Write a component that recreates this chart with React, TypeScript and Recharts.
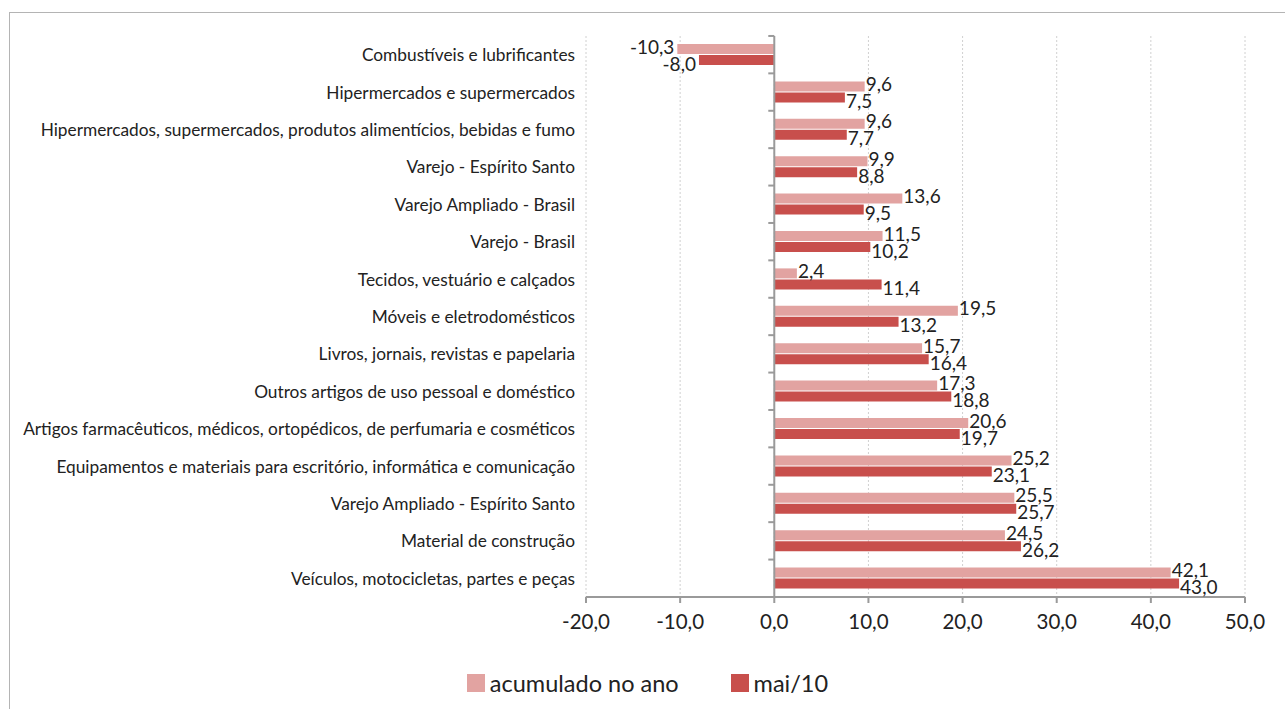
import React from 'react'
import {
  BarChart,
  Bar,
  XAxis,
  YAxis,
  CartesianGrid,
  ReferenceLine,
  LabelList,
  Legend,
} from 'recharts'

const categories = [
  'Combustíveis e lubrificantes',
  'Hipermercados e supermercados',
  'Hipermercados, supermercados, produtos alimentícios, bebidas e fumo',
  'Varejo - Espírito Santo',
  'Varejo Ampliado - Brasil',
  'Varejo - Brasil',
  'Tecidos, vestuário e calçados',
  'Móveis e eletrodomésticos',
  'Livros, jornais, revistas e papelaria',
  'Outros artigos de uso pessoal e doméstico',
  'Artigos farmacêuticos, médicos, ortopédicos, de perfumaria e cosméticos',
  'Equipamentos e materiais para escritório, informática e comunicação',
  'Varejo Ampliado - Espírito Santo',
  'Material de construção',
  'Veículos, motocicletas, partes e peças',
]

const acumuladoNoAno = [-10.3, 9.6, 9.6, 9.9, 13.6, 11.5, 2.4, 19.5, 15.7, 17.3, 20.6, 25.2, 25.5, 24.5, 42.1]
const maio10 = [-8.0, 7.5, 7.7, 8.8, 9.5, 10.2, 11.4, 13.2, 16.4, 18.8, 19.7, 23.1, 25.7, 26.2, 43.0]

const xTicks = [-20, -10, 0, 10, 20, 30, 40, 50]

const data = categories.map((name, i) => ({
  name,
  acum: acumuladoNoAno[i],
  mai: maio10[i],
}))

const W = 1285
const H = 709
const FONT = 'Lato, "Open Sans", sans-serif'
const LIGHT = '#e2a3a1'
const DARK = '#c84f4c'

const margin = { top: 36, right: 40, bottom: 12, left: 0 }
const yAxisWidth = 586
const plotLeft = margin.left + yAxisWidth
const plotWidth = W - plotLeft - margin.right
const plotTop = margin.top
const plotBottom = 598
const zeroX = plotLeft + (plotWidth * (0 - xTicks[0])) / (xTicks[xTicks.length - 1] - xTicks[0])
const band = (plotBottom - plotTop) / categories.length

const fmt = (v: number) => v.toFixed(1).replace('.', ',')

function CategoryTick(props: any) {
  const { x, y, payload } = props
  return (
    <g>
      <text
        x={x}
        y={y}
        textAnchor="end"
        dominantBaseline="central"
        fontSize={17.3}
        fontFamily={FONT}
        fill="#222"
      >
        {payload.value}
      </text>
      <line x1={zeroX - 6} x2={zeroX} y1={y - band / 2} y2={y - band / 2} stroke="#9a9a9a" strokeWidth={2} />
    </g>
  )
}

const makeLabel = (dy: number) => (props: any) => {
  const { x, y, width, height, value } = props
  const v = Number(value)
  const left = Math.min(x, x + width)
  const right = Math.max(x, x + width)
  const cy = y + height / 2 + dy
  return (
    <text
      x={v < 0 ? left - 3 : right + 1}
      y={cy}
      textAnchor={v < 0 ? 'end' : 'start'}
      dominantBaseline="central"
      fontSize={19}
      fontFamily={FONT}
      fill="#222"
    >
      {fmt(v)}
    </text>
  )
}

function LegendContent() {
  const items = [
    { label: 'acumulado no ano', color: LIGHT },
    { label: 'mai/10', color: DARK },
  ]
  return (
    <div style={{ display: 'flex', justifyContent: 'center', gap: 52, fontFamily: FONT, fontSize: 23.5, color: '#222', paddingLeft: 10 }}>
      {items.map((it) => (
        <div key={it.label} style={{ display: 'flex', alignItems: 'center' }}>
          <span style={{ display: 'inline-block', width: 18, height: 18, background: it.color, marginRight: 5 }} />
          <span>{it.label}</span>
        </div>
      ))}
    </div>
  )
}

export default function App() {
  return (
    <div style={{ position: 'absolute', left: 0, top: 0, width: W, height: H, overflow: 'hidden', background: '#fff' }}>
      <div
        style={{
          position: 'absolute',
          left: 9,
          top: 12,
          width: W,
          height: H,
          borderLeft: '1px solid #b4b4b4',
          borderTop: '1px solid #b4b4b4',
        }}
      />
      <div style={{ position: 'absolute', left: 0, top: 0 }}>
        <BarChart
          width={W}
          height={H}
          data={data}
          layout="vertical"
          margin={margin}
          barSize={10}
          barGap={1}
        >
          <CartesianGrid horizontal={false} stroke="#d0d0d0" strokeDasharray="2 2" />
          <XAxis
            type="number"
            domain={[-20, 50]}
            ticks={xTicks}
            tickFormatter={fmt}
            height={72}
            axisLine={{ stroke: '#9a9a9a', strokeWidth: 2 }}
            tickLine={{ stroke: '#9a9a9a', strokeWidth: 2 }}
            tickSize={6}
            tickMargin={11}
            tick={{ fontSize: 20.5, fontFamily: FONT, fill: '#222' }}
            allowDataOverflow
          />
          <YAxis
            type="category"
            dataKey="name"
            width={yAxisWidth}
            axisLine={false}
            tickLine={false}
            tickSize={0}
            tickMargin={11}
            interval={0}
            tick={<CategoryTick />}
          />
          <ReferenceLine x={0} stroke="#9a9a9a" strokeWidth={2} />
          <Bar dataKey="acum" name="acumulado no ano" fill={LIGHT} isAnimationActive={false}>
            <LabelList dataKey="acum" content={makeLabel(-3)} />
          </Bar>
          <Bar dataKey="mai" name="mai/10" fill={DARK} isAnimationActive={false}>
            <LabelList dataKey="mai" content={makeLabel(3)} />
          </Bar>
          <Legend
            verticalAlign="bottom"
            content={<LegendContent />}
            wrapperStyle={{ left: 0, width: W }}
          />
        </BarChart>
      </div>
    </div>
  )
}
